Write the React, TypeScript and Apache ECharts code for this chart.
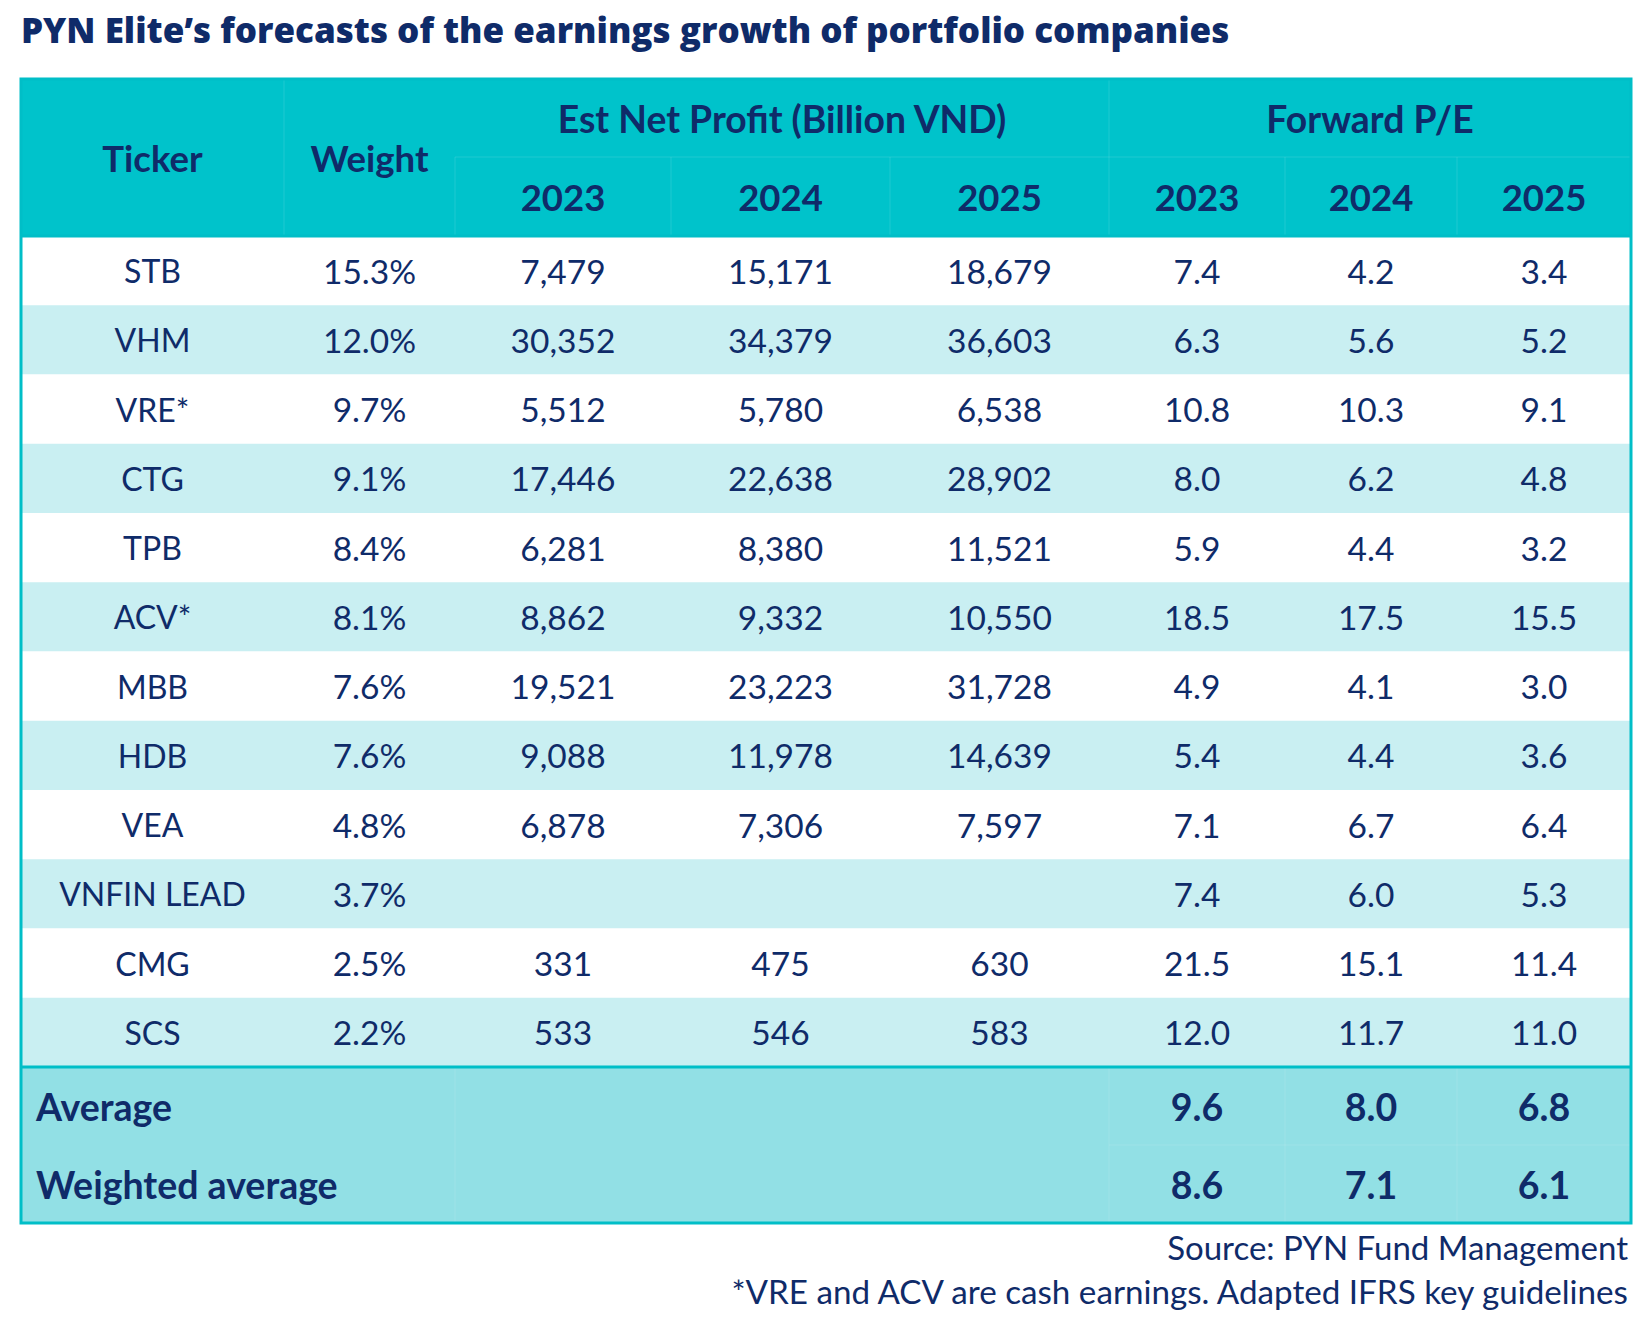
import React, { useEffect, useRef } from "react";
import * as echarts from "echarts";

// ---------- data ----------
const titleText = "PYN Elite’s forecasts of the earnings growth of portfolio companies";
const groupHeaders = ["Est Net Profit (Billion VND)", "Forward P/E"];
const years = ["2023", "2024", "2025"];
const tickers = ["STB", "VHM", "VRE*", "CTG", "TPB", "ACV*", "MBB", "HDB", "VEA", "VNFIN LEAD", "CMG", "SCS"];
const weights = [15.3, 12.0, 9.7, 9.1, 8.4, 8.1, 7.6, 7.6, 4.8, 3.7, 2.5, 2.2];
const profit2023 = [7479, 30352, 5512, 17446, 6281, 8862, 19521, 9088, 6878, null, 331, 533];
const profit2024 = [15171, 34379, 5780, 22638, 8380, 9332, 23223, 11978, 7306, null, 475, 546];
const profit2025 = [18679, 36603, 6538, 28902, 11521, 10550, 31728, 14639, 7597, null, 630, 583];
const pe2023 = [7.4, 6.3, 10.8, 8.0, 5.9, 18.5, 4.9, 5.4, 7.1, 7.4, 21.5, 12.0];
const pe2024 = [4.2, 5.6, 10.3, 6.2, 4.4, 17.5, 4.1, 4.4, 6.7, 6.0, 15.1, 11.7];
const pe2025 = [3.4, 5.2, 9.1, 4.8, 3.2, 15.5, 3.0, 3.6, 6.4, 5.3, 11.4, 11.0];
const summaryLabels = ["Average", "Weighted average"];
const averagePE = [9.6, 8.0, 6.8];
const weightedAveragePE = [8.6, 7.1, 6.1];
const sourceNote = "Source: PYN Fund Management";
const footNote = "*VRE and ACV are cash earnings. Adapted IFRS key guidelines";

// ---------- layout / style ----------
const NAVY = "#0F2B69";
const TEAL = "#00C3CB";
const BORDER = "#00BEC7";
const ROW_ALT = "#C9EFF2";
const FOOT_BG = "#92E0E5";
const FONT = "Lato";
const HEADER_SIZE = 36.5;
const TICKER_SIZE = 32;
const NUM_SIZE = 33.5;
const FOOT_SIZE = 37.5;

const colWidths = [263, 171, 216, 219, 219, 176, 172, 174];
const headerRowHeights = [78, 79];
const bodyRowHeight = 69.25;
const footerRowHeights = [78, 78];

const colEdges: number[] = [0];
colWidths.forEach((w) => colEdges.push(colEdges[colEdges.length - 1] + w));
const rowEdges: number[] = [0];
const pushRow = (h: number) => rowEdges.push(rowEdges[rowEdges.length - 1] + h);
headerRowHeights.forEach(pushRow);
tickers.forEach(() => pushRow(bodyRowHeight));
footerRowHeights.forEach(pushRow);
const tableW = colEdges[colEdges.length - 1];
const tableH = rowEdges[rowEdges.length - 1];
const nCols = colWidths.length;
const bodyStart = headerRowHeights.length;
const footStart = bodyStart + tickers.length;

type Cell = {
  c0: number; c1: number; r0: number; r1: number;
  kind: "bg" | "text" | "hline" | "vline" | "frame";
  text?: string; fill?: string; bold?: boolean; size?: number; align?: "left" | "center";
  stroke?: string; lw?: number;
};

const fmtInt = (v: number | null) => (v == null ? "" : v.toLocaleString("en-US"));
const fmt1 = (v: number) => v.toFixed(1);

function buildCells(): Cell[] {
  const cells: Cell[] = [];
  // backgrounds
  cells.push({ c0: 0, c1: nCols, r0: 0, r1: bodyStart, kind: "bg", fill: TEAL });
  tickers.forEach((_, i) => {
    cells.push({ c0: 0, c1: nCols, r0: bodyStart + i, r1: bodyStart + i + 1, kind: "bg", fill: i % 2 === 0 ? "#FFFFFF" : ROW_ALT });
  });
  cells.push({ c0: 0, c1: nCols, r0: footStart, r1: footStart + 2, kind: "bg", fill: FOOT_BG });
  // faint header / footer grid lines
  const faint = "rgba(255,255,255,0.12)";
  cells.push({ c0: 2, c1: nCols, r0: 1, r1: 1, kind: "hline", stroke: faint, lw: 1 });
  [1, 2, 3, 4, 5, 6, 7].forEach((c) => {
    cells.push({ c0: c, c1: c, r0: c >= 2 && c !== 5 ? 1 : 0, r1: bodyStart, kind: "vline", stroke: faint, lw: 1 });
  });
  [2, 5, 6, 7].forEach((c) => {
    cells.push({ c0: c, c1: c, r0: footStart, r1: footStart + 2, kind: "vline", stroke: faint, lw: 1 });
  });
  cells.push({ c0: 5, c1: nCols, r0: footStart + 1, r1: footStart + 1, kind: "hline", stroke: faint, lw: 1 });
  // strong lines
  cells.push({ c0: 0, c1: nCols, r0: bodyStart, r1: bodyStart, kind: "hline", stroke: BORDER, lw: 3 });
  cells.push({ c0: 0, c1: nCols, r0: footStart, r1: footStart, kind: "hline", stroke: BORDER, lw: 3 });
  cells.push({ c0: 0, c1: nCols, r0: 0, r1: rowEdges.length - 1, kind: "frame", stroke: BORDER, lw: 3 });
  // header texts
  cells.push({ c0: 0, c1: 1, r0: 0, r1: bodyStart, kind: "text", text: "Ticker", bold: true, size: HEADER_SIZE });
  cells.push({ c0: 1, c1: 2, r0: 0, r1: bodyStart, kind: "text", text: "Weight", bold: true, size: HEADER_SIZE });
  cells.push({ c0: 2, c1: 5, r0: 0, r1: 1, kind: "text", text: groupHeaders[0], bold: true, size: HEADER_SIZE + 0.8 });
  cells.push({ c0: 5, c1: 8, r0: 0, r1: 1, kind: "text", text: groupHeaders[1], bold: true, size: HEADER_SIZE + 0.8 });
  [...years, ...years].forEach((y, i) => {
    cells.push({ c0: 2 + i, c1: 3 + i, r0: 1, r1: 2, kind: "text", text: y, bold: true, size: HEADER_SIZE });
  });
  // body texts
  tickers.forEach((t, i) => {
    const r = bodyStart + i;
    const vals = [
      t,
      fmt1(weights[i]) + "%",
      fmtInt(profit2023[i]),
      fmtInt(profit2024[i]),
      fmtInt(profit2025[i]),
      fmt1(pe2023[i]),
      fmt1(pe2024[i]),
      fmt1(pe2025[i]),
    ];
    vals.forEach((v, c) => {
      if (v !== "") cells.push({ c0: c, c1: c + 1, r0: r, r1: r + 1, kind: "text", text: v, size: c === 0 ? TICKER_SIZE : NUM_SIZE });
    });
  });
  // footer texts
  [averagePE, weightedAveragePE].forEach((arr, k) => {
    const r = footStart + k;
    cells.push({ c0: 0, c1: 2, r0: r, r1: r + 1, kind: "text", text: summaryLabels[k], bold: true, size: FOOT_SIZE, align: "left" });
    arr.forEach((v, j) => {
      cells.push({ c0: 5 + j, c1: 6 + j, r0: r, r1: r + 1, kind: "text", text: fmt1(v), bold: true, size: FOOT_SIZE });
    });
  });
  return cells;
}

export default function App() {
  const ref = useRef<HTMLDivElement>(null);
  useEffect(() => {
    document.body.style.margin = "0";
    if (!ref.current) return;
    const chart = echarts.init(ref.current, undefined, { renderer: "svg" });
    const cells = buildCells();
    const renderItem = (params: any, api: any) => {
      const cell = cells[params.dataIndex];
      const p0 = api.coord([colEdges[cell.c0], rowEdges[cell.r0]]);
      const p1 = api.coord([colEdges[cell.c1], rowEdges[cell.r1]]);
      if (cell.kind === "bg") {
        return { type: "rect", shape: { x: p0[0], y: p0[1], width: p1[0] - p0[0], height: p1[1] - p0[1] }, style: { fill: cell.fill } };
      }
      if (cell.kind === "hline") {
        return { type: "line", shape: { x1: p0[0], y1: p0[1], x2: p1[0], y2: p0[1] }, style: { stroke: cell.stroke, lineWidth: cell.lw } };
      }
      if (cell.kind === "vline") {
        return { type: "line", shape: { x1: p0[0], y1: p0[1], x2: p0[0], y2: p1[1] }, style: { stroke: cell.stroke, lineWidth: cell.lw } };
      }
      if (cell.kind === "frame") {
        return { type: "rect", shape: { x: p0[0], y: p0[1], width: p1[0] - p0[0], height: p1[1] - p0[1] }, style: { fill: "none", stroke: cell.stroke, lineWidth: cell.lw } };
      }
      const left = cell.align === "left";
      return {
        type: "text",
        style: {
          text: cell.text,
          x: left ? p0[0] + 15 : (p0[0] + p1[0]) / 2,
          y: (p0[1] + p1[1]) / 2,
          align: left ? "left" : "center",
          verticalAlign: "middle",
          fill: NAVY,
          fontSize: cell.size,
          fontWeight: cell.bold ? "bold" : "normal",
          fontFamily: FONT,
        },
      };
    };
    chart.setOption({
      animation: false,
      grid: { left: 21, top: 79, width: tableW, height: tableH },
      xAxis: { type: "value", min: 0, max: tableW, show: false },
      yAxis: { type: "value", min: 0, max: tableH, inverse: true, show: false },
      series: [
        {
          type: "custom",
          renderItem,
          clip: false,
          silent: true,
          data: cells.map((c) => [colEdges[c.c0], rowEdges[c.r0]]),
        },
      ],
      graphic: [
        { type: "text", x: 21, y: 29, style: { text: titleText, fill: NAVY, fontSize: 35, fontWeight: 800, fontFamily: "Open Sans", verticalAlign: "middle" } },
        { type: "text", x: 1628, y: 1247, style: { text: sourceNote, fill: NAVY, fontSize: 33, fontFamily: FONT, align: "right", verticalAlign: "middle" } },
        { type: "text", x: 1628, y: 1291, style: { text: footNote, fill: NAVY, fontSize: 33.2, fontFamily: FONT, align: "right", verticalAlign: "middle" } },
      ],
    });
    return () => chart.dispose();
  }, []);
  return <div ref={ref} style={{ width: 1652, height: 1318 }} />;
}
